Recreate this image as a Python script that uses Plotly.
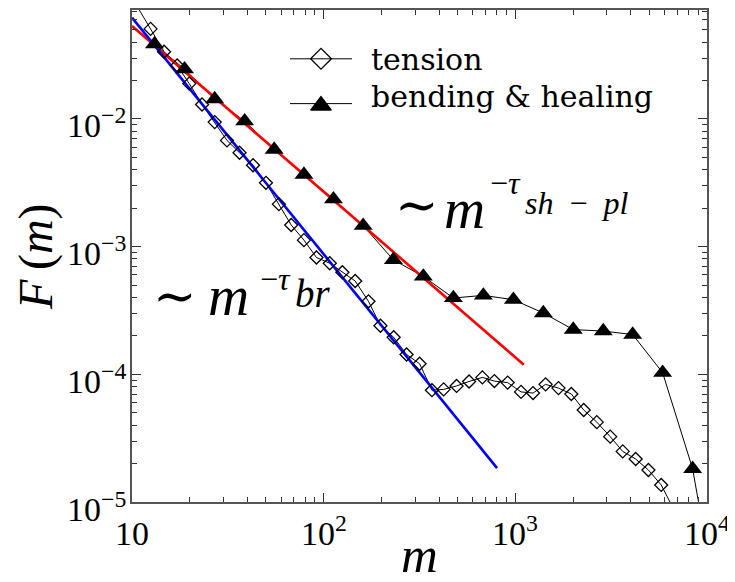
import math
import plotly.graph_objects as go

# ---------------- data ----------------
tension_m = [10.7, 12.5, 14.7, 17.2, 19.9, 23.2, 27.0, 31.3, 36.4, 42.8, 50.0, 58.4, 67.7,
             78.9, 91.7, 107.6, 125.2, 146, 171.3, 197.8, 231.9, 270.7, 316.6, 367.2,
             422.7, 493.6, 573.7, 673, 777.5, 912, 1071, 1237, 1438, 1679, 1960, 2274,
             2661, 3126, 3633, 4244, 4947, 5768, 6668]
tension_F = [0.075, 0.0507, 0.0336, 0.0262, 0.0189, 0.01298, 0.00944, 0.00679, 0.00543,
             0.00434, 0.00316, 0.00215, 0.001477, 0.001124, 0.000822, 0.000741, 0.000630,
             0.000538, 0.000373, 0.000240, 0.000195, 0.000143, 0.000121, 7.51e-5, 7.62e-5,
             8.11e-5, 8.79e-5, 9.46e-5, 8.85e-5, 8.61e-5, 7.28e-5, 7.13e-5, 8.34e-5,
             7.80e-5, 7.01e-5, 5.25e-5, 4.22e-5, 3.25e-5, 2.49e-5, 2.17e-5, 1.78e-5,
             1.36e-5, 8.9e-6]

bending_m = [13.1, 18.8, 27.0, 38.7, 55.2, 78.9, 112.5, 160.7, 231, 331, 475, 681, 977,
             1400, 2005, 2876, 4093, 5867, 8413, 12000]
bending_F = [0.0385, 0.0245, 0.0143, 0.0096, 0.00575, 0.00367, 0.00235, 0.00146, 0.000788,
             0.000584, 0.000396, 0.000415, 0.000384, 0.000302, 0.000224, 0.000218,
             0.000205, 0.000103, 1.82e-5, 9e-7]

fit_sh_m = [10, 1107]
fit_sh_F = [0.0534, 1.19e-4]
fit_br_m = [10, 803]
fit_br_F = [0.0621, 1.84e-5]

x_tick_vals = [10, 100, 1000, 10000]
x_tick_text = ["10", "10<sup>2</sup>", "10<sup>3</sup>", "10<sup>4</sup>"]
y_tick_vals = [1e-5, 1e-4, 1e-3, 1e-2]
y_tick_text = ["10<sup>−5</sup>", "10<sup>−4</sup>", "10<sup>−3</sup>", "10<sup>−2</sup>"]

legend_names = ["tension", "bending & healing"]

# ---------------- geometry ----------------
SERIF = "Liberation Serif"
X_LOG = (1, 4)
Y_LOG = (-5, -1.147)
OFF = 8                      # page body margin of the html page
W, H = 727, 574              # figure size (page shows it at an 8 px offset)
L, R, T, B = 124, 28, 0, 80
PW, PH = W - L - R, H - T - B


def px2paper(px, py):
    """page pixel -> paper fraction"""
    return ((px - OFF) - L) / PW, (H - B - (py - OFF)) / PH


def px2data(px, py):
    xp, yp = px2paper(px, py)
    return (10 ** (X_LOG[0] + (X_LOG[1] - X_LOG[0]) * xp),
            10 ** (Y_LOG[0] + (Y_LOG[1] - Y_LOG[0]) * yp))


fig = go.Figure()

# connecting lines (drawn first)
fig.add_trace(go.Scatter(x=tension_m, y=tension_F, mode="lines",
                         line=dict(color="black", width=1), showlegend=False, hoverinfo="skip"))
fig.add_trace(go.Scatter(x=bending_m, y=bending_F, mode="lines",
                         line=dict(color="black", width=1), showlegend=False, hoverinfo="skip"))
# fit lines
fig.add_trace(go.Scatter(x=fit_sh_m, y=fit_sh_F, mode="lines",
                         line=dict(color="#ff0000", width=2.6), showlegend=False))
fig.add_trace(go.Scatter(x=fit_br_m, y=fit_br_F, mode="lines",
                         line=dict(color="#0000ff", width=2.6), showlegend=False))
# markers (extension points outside the frame are not drawn)
fig.add_trace(go.Scatter(x=tension_m[1:-1], y=tension_F[1:-1], mode="markers",
                         marker=dict(symbol="diamond-open", size=10, color="black",
                                     line=dict(width=1.3, color="black")),
                         name=legend_names[0], showlegend=False))
fig.add_trace(go.Scatter(x=bending_m[:-1], y=bending_F[:-1], mode="markers",
                         marker=dict(symbol="triangle-up", size=16.5, color="black"),
                         name=legend_names[1], showlegend=False))

# manual legend: sample line + marker
for py, my_px, sym, sz, fill in [(57, 57, "diamond", 16, "white"),
                                 (102, 104, "triangle-up", 18, "black")]:
    x0, y0 = px2paper(290, py)
    x1, _ = px2paper(352, py)
    fig.add_shape(type="line", xref="paper", yref="paper", x0=x0, x1=x1, y0=y0, y1=y0,
                  line=dict(color="black", width=1))
    mx, my = px2data(321, my_px)
    fig.add_trace(go.Scatter(x=[mx], y=[my], mode="markers",
                             marker=dict(symbol=sym, size=sz, color=fill,
                                         line=dict(width=1.3, color="black")),
                             showlegend=False, hoverinfo="skip", cliponaxis=False))

minor_x = [k * 10 ** e for e in (1, 2, 3) for k in range(2, 10)]
minor_y = [k * 10.0 ** e for e in (-5, -4, -3, -2) for k in range(2, 10) if k * 10.0 ** e < 0.0713]

axis_common = dict(type="log", showgrid=False, zeroline=False, showline=True,
                   linecolor="#555555", linewidth=2, mirror="allticks",
                   ticks="inside", ticklen=9, tickwidth=1.2, tickcolor="#333333",
                   showticklabels=False)

fig.update_layout(
    width=W, height=H,
    margin=dict(l=L, r=R, t=T, b=B),
    paper_bgcolor="white", plot_bgcolor="white",
    showlegend=False,
    xaxis=dict(range=list(X_LOG), tickmode="array", tickvals=x_tick_vals,
               minor=dict(tickmode="array", tickvals=minor_x, ticks="inside", ticklen=5,
                          tickwidth=1, tickcolor="#333333"),
               **axis_common),
    yaxis=dict(range=list(Y_LOG), tickmode="array", tickvals=y_tick_vals,
               minor=dict(tickmode="array", tickvals=minor_y, ticks="inside", ticklen=5,
                          tickwidth=1, tickcolor="#333333"),
               **axis_common),
)

# tick labels as annotations placed through the axes' own scales
for v, t in zip(x_tick_vals, x_tick_text):
    fig.add_annotation(text=t, x=math.log10(v), xref="x", y=0, yref="paper",
                       xanchor="center", yanchor="bottom", yshift=-52, showarrow=False,
                       font=dict(family=SERIF, size=34, color="black"))
for v, t in zip(y_tick_vals, y_tick_text):
    fig.add_annotation(text=t, x=0, xref="paper", y=math.log10(v), yref="y",
                       xanchor="right", yanchor="bottom", xshift=-4, yshift=-27.5,
                       showarrow=False, font=dict(family=SERIF, size=34, color="black"))


def ann(text, px, py, size, xanchor="center", yanchor="middle", angle=0, family=SERIF):
    x, y = px2paper(px, py)
    fig.add_annotation(text=text, x=x, y=y, xref="paper", yref="paper", showarrow=False,
                       xanchor=xanchor, yanchor=yanchor, textangle=angle,
                       font=dict(family=family, size=size, color="black"))


# legend texts
ann(legend_names[0], 369, 57.6, 30, xanchor="left", family="DejaVu Serif")
ann(legend_names[1], 369, 94.6, 30, xanchor="left", family="DejaVu Serif")

# axis titles
ann("<i>F</i>\u2009(<i>m</i>)", 36, 255, 48, angle=-90)
ann("<i>m</i>", 419.5, 555, 51)

# power-law labels
ann("∼", 416.5, 204, 52, family="DejaVu Serif")
ann("<i>m</i>", 464.5, 207.5, 57)
ann("−<i>τ</i>", 505.5, 181.5, 32)
ann("<i>sh</i>\u2002−\u2002<i>pl</i>", 577, 202, 32)

ann("∼", 174.5, 295.5, 52, family="DejaVu Serif")
ann("<i>m</i>", 228, 295, 57)
ann("−<i>τ</i>", 275, 278.5, 32)
ann("<i>br</i>", 313, 293, 39)

fig.write_html("out.html")
